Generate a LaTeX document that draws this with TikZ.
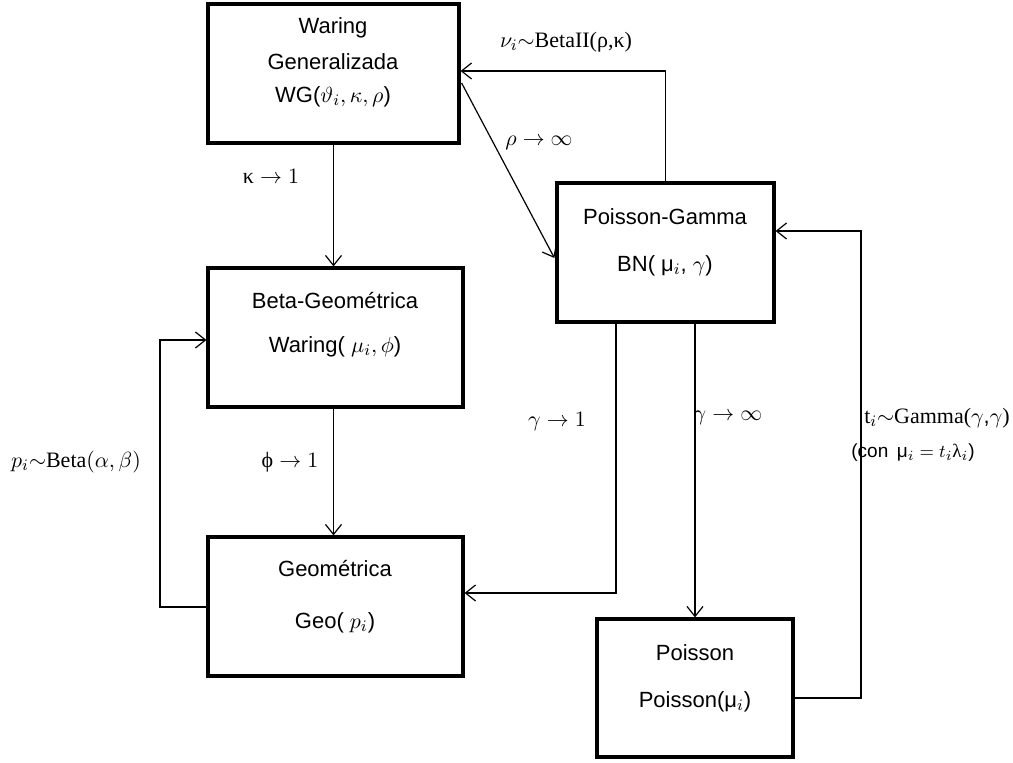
\documentclass[tikz,border=0pt]{standalone}
\usepackage{fontspec}
\setmainfont{Liberation Sans}
\newfontfamily\serifF{Liberation Serif}
\usetikzlibrary{arrows.meta,calc}
\begin{document}
\begin{tikzpicture}[x=0.5pt,y=-0.5pt,
  box/.style={draw, line width=1.6pt, rectangle, inner sep=0pt},
  conn/.style={line width=0.6pt, -{Straight Barb[length=5pt,width=8pt,line width=0.6pt]}},
  txt/.style={font=\fontsize{11}{13}\selectfont, inner sep=0pt, anchor=center},
  lbl/.style={font=\fontsize{11}{13}\selectfont, inner sep=0pt, anchor=center}]
\useasboundingbox (0,0) rectangle (1013,763);
% boxes
\node[box, minimum width=125.5pt, minimum height=69.5pt] (wg) at (333.5,73.5) {};
\node[box, minimum width=127.5pt, minimum height=69.5pt] (bg) at (335.5,337.5) {};
\node[box, minimum width=127.5pt, minimum height=69.5pt] (geo) at (335.5,606.5) {};
\node[box, minimum width=108.5pt, minimum height=69.5pt] (pg) at (665.5,252.5) {};
\node[box, minimum width=98pt, minimum height=69pt] (poi) at (695,688) {};
% box texts
\node[txt] (wg1) at (333,28) {Waring};
\node[txt] (wg2) at (333,62) {Generalizada};
\node[txt] (wg3) at (333,97) {WG($\vartheta_i,\kappa,\rho$)};
\node[txt] (bg1) at (335,301) {Beta-Geométrica};
\node[txt] (bg2) at (335,347) {Waring( $\mu_i,\phi$)};
\node[txt] (geo1) at (335,569) {Geométrica};
\node[txt] (geo2) at (335,623) {Geo( $p_i$)};
\node[txt] (pg1) at (665,217) {Poisson-Gamma};
\node[txt] (pg2) at (665,266) {BN( μ$_i$, $\gamma$)};
\node[txt] (poi1) at (695,653) {Poisson};
\node[txt] (poi2) at (695,702) {Poisson(μ$_i$)};
% connectors
\draw[conn] (wg.south) -- (wg.south |- bg.north);
\draw[conn] (wg.south |- bg.south) -- (wg.south |- geo.north);
\draw[conn] (pg.north) |- (wg.east |- 0,71);
\draw[conn] ($(wg.east)+(1,9.5)$) -- ($(pg.west)+(-1,5.5)$);
\draw[conn] (pg.south -| 616,0) |- (geo.east |- 0,593);
\draw[conn] (poi.north |- pg.south) -- (poi.north);
\coordinate (tr) at (861,698);
\draw[conn] (poi.east |- tr) -| (tr |- 0,231) -- (pg.east |- 0,231);
\coordinate (bl) at (160,607);
\draw[conn] (geo.west |- bl) -| (bl |- 0,340) -- (bg.west |- 0,340);
% labels
\node[lbl] (l1) at (566,42) {$\nu_i{\sim}${\serifF BetaII(ρ,κ)}};
\node[lbl] (l2) at (539,143) {$\rho \to \infty$};
\node[lbl] (l3) at (271,176) {{\serifF κ} $\to 1$};
\node[lbl] (l4) at (290,462) {{\serifF ϕ} $\to 1$};
\node[lbl] (l5) at (76,462) {$p_i{\sim}${\serifF Beta}$(\alpha,\beta)$};
\node[lbl] (l6) at (557,422) {$\gamma \to 1$};
\node[lbl] (l7) at (728,418) {$\gamma \to \infty$};
\node[lbl] (l8) at (937,418) {{\serifF t}$_i{\sim}${\serifF Gamma(}$\gamma$,$\gamma${\serifF )}};
\node[lbl, font=\fontsize{9.5}{11}\selectfont] (l9) at (913,453) {(con\, μ$_i = t_i${\serifF λ}$_i$)};
\end{tikzpicture}
\end{document}
